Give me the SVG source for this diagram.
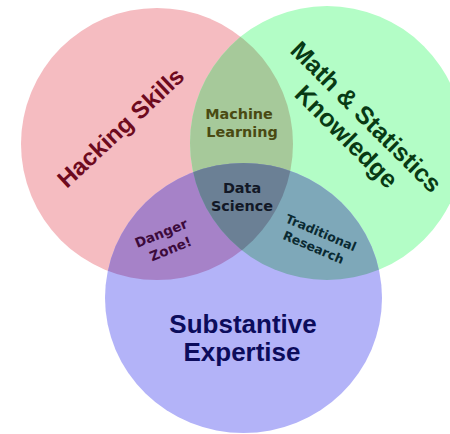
<svg xmlns="http://www.w3.org/2000/svg" width="450" height="434" viewBox="0 0 450 434">
<style>
.big{font-family:"Liberation Sans",Arial,sans-serif;font-weight:bold;text-anchor:middle}
.small{font-family:"DejaVu Sans",Verdana,sans-serif;font-weight:bold;text-anchor:middle}
</style>
<defs>
<circle id="cR" cx="157" cy="144" r="136"/>
<circle id="cG" cx="327" cy="143" r="137"/>
<ellipse id="cB" cx="243.5" cy="298" rx="138.5" ry="135"/>
<clipPath id="clipR"><use href="#cR"/></clipPath>
<clipPath id="clipG"><use href="#cG"/></clipPath>
</defs>
<rect width="450" height="434" fill="#ffffff"/>
<g id="hacking-set"><use href="#cR" fill="#F5BCC1"/></g>
<g id="math-set"><use href="#cG" fill="#B3FDC6"/></g>
<g id="substantive-set"><use href="#cB" fill="#B3B3F8"/></g>
<g id="machine-learning-region"><use href="#cG" clip-path="url(#clipR)" fill="#A6C99A"/></g>
<g id="danger-zone-region"><use href="#cB" clip-path="url(#clipR)" fill="#A682C8"/></g>
<g id="traditional-research-region"><use href="#cB" clip-path="url(#clipG)" fill="#7EA8B9"/></g>
<g id="data-science-region" clip-path="url(#clipR)"><use href="#cB" clip-path="url(#clipG)" fill="#6B8095"/></g>
<g id="connectors"/>
<g id="hacking-label"><text class="big" font-size="24" fill="#6E0A1E" transform="translate(121.5,128.5) rotate(-43)" x="0" y="7">Hacking Skills</text></g>
<g id="math-label" transform="translate(366.5,116.5) rotate(45)">
<text class="big" font-size="25" fill="#083A14" x="0" y="9">Math &amp; Statistics</text>
<text class="big" font-size="25" fill="#083A14" x="0" y="37">Knowledge</text>
</g>
<g id="substantive-label">
<text class="big" font-size="26" fill="#0C0C5C" x="243" y="333">Substantive</text>
<text class="big" font-size="26" fill="#0C0C5C" x="242" y="361">Expertise</text>
</g>
<g id="machine-learning-label">
<text class="small" font-size="14.4" fill="#4A4A12" x="239" y="119">Machine</text>
<text class="small" font-size="14.4" fill="#4A4A12" x="242" y="137">Learning</text>
</g>
<g id="data-science-label">
<text class="small" font-size="14.4" fill="#121826" x="242" y="193">Data</text>
<text class="small" font-size="14.4" fill="#121826" x="242" y="211">Science</text>
</g>
<g id="danger-zone-label" transform="translate(161,233) rotate(-22)">
<text class="small" font-size="13.5" fill="#3C0A3C" x="0" y="5">Danger</text>
<text class="small" font-size="13.5" fill="#3C0A3C" x="3" y="23">Zone!</text>
</g>
<g id="traditional-research-label" transform="translate(321,232.5) rotate(23)">
<text class="small" font-size="12.5" fill="#0A2A32" x="0" y="4.5">Traditional</text>
<text class="small" font-size="12.5" fill="#0A2A32" x="-1" y="21">Research</text>
</g>
</svg>
